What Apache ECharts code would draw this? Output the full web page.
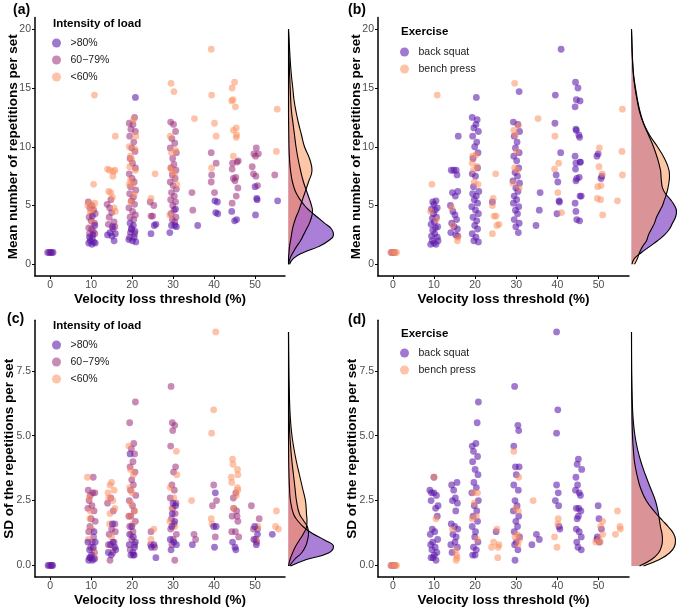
<!DOCTYPE html>
<html>
<head>
    <meta charset="utf-8">
    <title>Velocity loss thresholds</title>
    <script src="https://cdn.jsdelivr.net/npm/echarts@6/dist/echarts.min.js"></script>
    <style>
        html, body { margin: 0; padding: 0; background: #fff; }
        #main { width: 677px; height: 608px; }
    </style>
</head>
<body>
<div id="main"></div>
<script type="text/javascript">
    // tick values
    var xTicks = [0, 10, 20, 30, 40, 50];
    var repsTicks = [0, 5, 10, 15, 20];
    var sdTicks = [0, 2.5, 5, 7.5];

    var intensityNames = ['>80%', '60\u221279%', '<60%'];
    var exerciseNames = ['back squat', 'bench press'];

    // (a) mean reps per set, by intensity  [velocity loss (jittered), reps]
    var repsHigh = [[-0.6,1],[0.1,1],[0.7,1],
        [9.4,1.8],[9.8,2.0],[10.2,1.7],[10.6,1.9],[11.0,1.8],[9.6,2.3],[10.4,2.5],[10.9,3.3],[10.3,4.1],
        [14.0,2.5],[14.6,2.7],[15.1,2.4],[15.6,2.0],[15.9,2.6],[15.2,3.2],
        [19.2,2.1],[19.6,2.7],[20.1,2.0],[20.5,2.3],[20.9,1.9],[19.5,3.5],[20.3,3.3],[20.7,2.8],[19.8,3.0],[20.8,14.2],
        [24.6,2.6],[25.4,3.3],[25.8,3.4],
        [29.2,2.7],[29.6,3.3],[30.4,3.3],[30.8,3.2],[30.6,4.7],
        [36.0,3.3],
        [40.2,5.4],[40.8,5.3],[40.4,4.4],[40.9,4.3],
        [44.3,4.5],[45.0,3.7],[45.5,3.8],
        [50.0,6.6],[50.4,5.6],[50.5,5.5],[50.1,4.2],[55.5,5.4]];
    var repsMid = [[-0.2,1],[0.4,1],
        [9.3,5.3],[9.7,4.8],[10.2,5.0],[10.6,4.6],[11.0,4.3],[9.5,4.0],[10.0,3.7],[10.8,3.5],[9.4,3.1],[10.1,3.0],[10.5,2.8],[9.6,2.6],[10.9,2.6],[10.3,2.2],
        [13.9,5.1],[14.4,4.0],[15.0,4.4],[15.6,3.6],[14.2,3.4],[15.3,3.0],[15.8,3.2],[14.8,5.5],[14.5,4.8],
        [19.3,12.0],[20.6,12.5],[20.2,11.9],[19.7,11.5],[20.8,11.3],[19.4,10.9],[20.4,10.4],[19.9,9.9],[20.7,9.6],[19.5,9.0],[20.1,8.6],[20.8,8.2],[19.3,7.7],[20.0,7.3],[20.5,7.0],[19.6,6.6],[20.9,6.3],[19.4,6.0],[20.3,5.7],[19.8,5.4],[20.6,5.1],[19.2,4.8],[20.1,4.5],[20.8,4.2],[19.5,4.0],[20.4,3.8],[19.9,3.0],[20.6,2.6],[19.4,2.3],
        [24.4,5.3],[24.6,4.1],[25.0,4.1],[25.3,5.0],
        [29.4,12.1],[30.1,11.9],[30.6,11.3],[29.7,10.7],[30.4,10.3],[29.3,9.9],[30.8,9.5],[29.9,9.0],[30.2,8.5],[29.5,8.2],[30.7,8.0],[29.8,7.6],[30.5,7.3],[29.3,7.0],[30.0,6.7],[30.8,6.4],[29.6,6.1],[30.3,5.8],[29.4,5.5],[30.6,5.3],[29.9,5.0],[30.2,4.6],[29.5,4.3],[30.7,4.0],[29.8,3.8],[30.4,3.6],
        [34.6,6.1],[34.8,4.6],
        [39.3,9.5],[39.4,7.6],[39.3,7.0],[40.1,6.1],[40.5,8.6],
        [44.5,8.6],[44.4,8.1],[44.7,7.3],[45.3,7.4],[45.1,7.1],[44.4,5.2],[45.4,5.8],[45.8,6.5],[45.6,8.7],[45.9,8.8],
        [49.3,8.3],[49.6,7.7],[50.2,7.5],[50.6,6.7],[49.7,9.4],[50.1,9.2],[50.3,9.9],[50.8,9.4],[54.8,7.6]];
    var repsLow = [[10.8,14.4],[10.6,6.8],[9.2,5.0],[9.6,5.2],[10.0,4.3],[10.5,4.8],[9.8,4.5],[10.9,5.2],[10.3,3.6],
        [14.0,8.1],[14.5,8.0],[15.4,7.9],[15.8,8.0],[15.3,7.5],[15.9,10.9],[14.3,6.2],[14.8,6.1],[15.2,5.7],[15.6,4.8],[15.9,4.5],
        [19.3,10.0],[19.6,9.2],[20.3,12.3],[20.7,9.8],[19.9,8.9],[19.4,8.3],[20.8,8.0],[19.6,7.2],[20.2,6.8],[19.3,6.8],[20.5,5.9],[19.7,5.3],[20.9,10.9],
        [25.6,7.7],[24.6,5.6],
        [29.5,15.4],[30.2,14.7],[29.3,10.9],[29.6,9.5],[30.6,9.7],[29.4,8.2],[29.8,7.9],[30.3,7.6],[29.2,4.2],[30.9,6.8],
        [35.2,12.4],
        [39.3,18.3],[39.4,14.4],[40.1,12.0],[40.5,10.9],[39.4,8.2],
        [44.4,15.0],[45.0,15.5],[44.6,14.0],[44.3,13.9],[45.2,13.4],[44.7,11.4],[45.4,11.6],[45.5,11.0],[45.4,10.8],[44.7,9.2],
        [55.4,13.2],[55.2,9.6]];

    // (b) mean reps per set, by exercise
    var repsSquat = [[-0.3,1],[0.3,1],
        [9.2,1.7],[9.6,2.0],[10.0,1.8],[10.5,1.7],[11.0,2.0],[9.4,2.4],[10.2,2.6],[10.8,2.3],[9.7,2.9],[10.4,3.1],[9.3,3.4],[10.9,3.2],[10.1,3.6],[9.6,3.9],[10.6,4.0],[9.9,4.3],[10.3,4.6],[9.4,4.7],[10.8,4.8],[10.0,5.1],[9.7,5.3],[10.5,5.4],
        [14.2,8.0],[14.8,8.0],[15.4,8.0],[15.6,7.6],[15.9,10.9],[14.5,6.1],[15.8,6.2],[15.2,5.8],[14.0,5.0],[14.6,4.5],[15.1,4.2],[15.5,3.8],[14.3,3.5],[14.9,3.2],[15.7,3.0],[14.1,2.7],[15.3,2.5],[15.8,2.4],
        [19.3,12.5],[20.5,12.3],[20.2,11.9],[19.7,11.6],[20.8,11.3],[19.4,10.9],[20.4,10.4],[19.9,10.0],[20.7,9.5],[19.5,9.0],[20.6,8.2],[19.3,7.7],[20.1,7.5],[19.6,6.6],[20.9,6.2],[19.4,6.0],[20.3,5.8],[19.8,5.5],[20.6,5.2],[19.2,4.9],[20.1,4.6],[20.8,4.3],[19.5,4.0],[20.4,3.7],[19.9,3.3],[20.6,3.0],[19.3,2.6],[20.2,2.3],[19.7,2.0],[20.8,1.9],[20.3,14.2],
        [24.2,5.3],
        [29.3,12.1],[30.4,11.9],[30.8,11.3],[29.5,10.9],[30.2,10.4],[29.8,9.9],[30.7,9.5],[29.4,9.2],[30.1,8.8],[30.6,8.2],[29.7,7.8],[30.3,7.5],[29.2,7.1],[30.8,6.9],[29.9,6.5],[30.4,6.2],[29.5,5.8],[30.1,5.5],[29.3,5.2],[30.6,4.9],[29.8,4.6],[30.3,4.3],[29.5,3.8],[30.7,3.5],[29.9,3.2],[30.5,2.7],[30.7,14.7],
        [35.8,6.1],[35.6,4.6],[34.8,3.3],
        [40.9,18.3],[39.5,14.4],[39.4,12.0],[39.7,7.6],[40.1,7.0],[40.8,9.5],[40.4,5.4],[40.5,5.3],[39.9,4.3],
        [44.4,15.5],[45.0,15.0],[44.6,14.0],[45.5,13.9],[44.3,13.4],[44.5,11.5],[44.6,11.4],[45.2,11.0],[45.4,10.8],[44.3,9.2],[44.5,8.6],[44.4,8.1],[45.5,8.7],[45.6,8.7],[44.7,7.3],[44.5,7.1],[45.3,7.4],[45.5,5.8],[45.8,5.8],[44.3,5.2],[44.5,4.5],[44.7,3.8],[45.4,3.7],
        [49.9,9.4],[49.6,9.2],[50.8,7.5],[50.6,7.3]];
    var repsBench = [[-0.5,1],[0.1,1],[0.6,1],[0.9,1],
        [10.8,14.4],[9.5,6.8],[9.2,4.5],[10.6,3.8],
        [14.3,4.8],[15.7,2.0],[15.8,2.3],[14.6,3.3],
        [19.3,8.6],[19.6,8.0],[20.2,9.3],[20.5,8.3],[19.8,7.0],[20.7,6.8],[19.4,9.2],
        [24.4,5.6],[24.6,4.1],[25.1,4.1],[25.3,3.3],[25.8,3.4],[24.2,2.6],[25.0,7.7],[24.2,5.0],
        [29.6,15.4],[29.4,11.4],[29.8,11.0],[30.5,11.8],[29.6,8.2],[30.3,8.0],[29.2,6.9],[30.7,6.5],[30.1,9.6],
        [35.3,12.4],
        [39.4,10.9],[40.3,8.6],[39.3,8.1],[40.1,6.1],[41.0,4.4],
        [50.2,9.9],[50.1,8.3],[50.9,7.7],[50.6,6.7],[49.8,6.6],[49.7,5.6],[50.5,5.5],[51.0,4.2],[54.6,5.4],[55.8,13.2],[55.7,9.6],[55.8,7.6]];

    // (c) SD of reps per set, by intensity
    var sdHigh = [[-0.5,0],[0.2,0],[0.6,0],
        [9.4,0.2],[9.8,0.3],[10.3,0.2],[10.8,0.25],[11.0,0.9],[9.6,0.6],[10.5,0.7],[9.2,0.9],[10.7,1.3],[10.1,0.4],
        [14.2,0.5],[14.7,0.8],[15.3,0.9],[15.8,0.7],[16.0,0.6],[15.2,1.6],[14.9,0.4],
        [19.3,0.8],[19.7,0.4],[20.2,0.5],[20.6,0.7],[19.5,4.3],[20.3,1.1],[19.9,1.5],[20.8,0.9],[19.4,1.2],[20.5,0.4],
        [25.3,0.8],[25.8,0.3],[24.7,0.7],
        [29.5,0.6],[30.2,0.9],[30.6,2.3],[30.0,2.4],[29.7,1.5],[30.4,1.7],[29.3,1.0],[30.8,0.8],[29.8,2.0],
        [34.7,0.8],
        [40.3,2.8],[39.9,1.5],[40.5,1.5],[40.1,0.7],
        [44.5,0.9],[45.1,0.7],[45.3,0.6],
        [49.9,1.5],[50.3,0.8],[49.7,1.0],[50.6,1.2],[54.2,1.2]];
    var sdMid = [[-0.2,0],[0.4,0],
        [9.3,2.9],[9.8,2.7],[10.4,2.8],[10.9,2.8],[9.5,2.5],[10.2,2.3],[10.7,2.1],[9.2,2.2],[10.0,1.8],[9.7,1.5],[10.6,1.1],[9.4,1.3],[10.3,0.9],[9.9,0.7],[10.8,0.5],[9.6,0.3],[10.5,3.4],[11.0,1.7],
        [14.0,2.4],[14.8,2.6],[15.4,2.1],[15.8,1.6],[14.4,1.2],[15.0,1.4],[15.6,0.9],[14.2,0.8],[15.3,0.5],[14.6,0.2],[15.9,1.3],
        [19.4,5.5],[20.8,6.3],[20.4,4.7],[19.8,4.5],[20.6,4.3],[20.2,4.0],[19.5,3.8],[20.7,3.6],[19.9,3.3],[20.3,3.1],[19.6,2.9],[20.9,2.7],[19.3,2.5],[20.1,2.3],[20.5,2.1],[19.7,1.9],[20.8,1.7],[19.4,1.5],[20.2,1.3],[19.9,1.0],[20.6,0.8],[19.5,0.6],[20.3,0.4],[19.2,1.9],
        [24.6,1.3],[24.5,0.8],[25.5,0.7],
        [29.5,6.9],[29.8,5.5],[30.4,5.4],[29.9,5.2],[29.4,4.6],[30.6,3.8],[30.1,3.6],[29.7,3.1],[30.3,2.9],[29.3,2.6],[30.7,2.4],[29.9,2.2],[30.5,2.0],[29.6,1.8],[30.2,1.6],[29.4,1.4],[30.8,1.2],[30.0,1.0],[29.7,0.8],[30.4,0.2],
        [35.1,1.2],[35.5,1.0],
        [39.9,3.1],[40.6,2.5],[39.6,2.3],[40.3,1.1],
        [44.4,1.9],[44.7,2.6],[45.3,2.8],[44.8,2.2],[45.5,2.1],[45.8,1.7],[45.2,1.3],[46.0,1.1],[44.3,1.3],[45.6,1.9],
        [49.1,2.3],[50.2,1.0],[50.6,1.4],[51.0,1.8],[49.6,1.4],[50.4,0.9]];
    var sdLow = [[9.1,3.4],[9.5,2.6],[9.7,1.8],[10.1,1.4],[9.3,1.0],[10.6,0.6],[9.8,2.1],[10.9,0.3],
        [14.1,2.8],[14.6,3.1],[15.0,3.2],[15.6,2.9],[14.3,2.6],[15.3,2.5],[14.6,2.0],[15.8,2.2],[14.5,1.6],[15.0,1.1],[15.4,0.7],
        [19.2,4.6],[19.6,3.7],[20.3,3.5],[19.4,3.0],[20.0,2.8],[19.7,2.4],[20.6,2.1],[19.3,1.9],[20.2,1.6],[19.8,1.2],
        [25.3,1.4],[24.6,1.0],
        [29.3,3.0],[29.7,2.2],[30.8,4.4],[30.9,3.5],[30.2,2.6],[29.2,1.7],[30.4,1.5],
        [34.5,2.5],
        [40.4,9.0],[39.9,6.0],[39.4,5.1],[39.3,1.8],[39.5,1.6],
        [44.5,4.1],[44.6,3.9],[45.7,3.7],[45.8,3.5],[44.2,3.4],[44.3,3.2],[45.7,3.0],[45.8,2.9],[44.7,2.2],[45.4,2.7],
        [50.2,1.0],[55.2,2.1],[55.7,1.4],[55.0,1.5],[50.7,1.5]];

    // (d) SD of reps per set, by exercise
    var sdSquat = [[-0.3,0],[0.4,0],
        [9.0,2.9],[9.4,2.8],[10.0,2.8],[10.6,2.7],[11.0,2.3],[9.3,2.5],[10.4,2.2],[10.8,1.9],[9.6,1.4],[10.2,1.3],[9.1,1.2],[10.9,1.0],[9.7,0.9],[10.3,0.7],[9.2,0.8],[10.7,0.5],[9.5,0.6],[10.1,0.4],[9.8,0.3],[10.5,0.2],[9.3,0.3],[10.0,3.4],
        [14.3,3.1],[15.6,3.2],[14.8,2.9],[15.2,2.6],[14.5,2.5],[15.7,2.4],[15.3,2.1],[14.2,1.6],[15.0,1.5],[15.8,1.4],[14.6,1.2],[15.4,1.1],[14.1,0.8],[15.1,0.9],[15.7,0.7],[14.4,0.5],
        [20.8,6.3],[20.5,5.5],[19.3,4.6],[20.2,4.7],[19.6,4.4],[20.6,4.2],[19.4,4.0],[20.0,3.7],[20.7,3.5],[19.7,3.2],[20.3,3.0],[19.2,2.8],[20.8,2.5],[19.8,2.3],[20.4,2.1],[19.5,1.9],[20.6,1.7],[19.3,1.5],[20.1,1.3],[19.9,1.1],[20.7,0.9],[19.6,0.7],[20.3,0.6],[19.4,0.4],[20.0,0.4],
        [25.1,1.3],
        [29.6,6.9],[30.4,5.4],[30.6,5.2],[29.4,4.6],[29.8,3.8],[30.7,3.8],[30.0,3.5],[29.4,3.1],[30.5,2.9],[29.7,2.5],[30.2,2.3],[29.3,2.1],[30.6,1.9],[29.9,1.7],[30.3,1.5],[29.5,1.3],[30.8,1.1],[30.0,0.9],[29.6,0.8],[30.4,0.6],[29.7,0.2],
        [34.9,1.2],[35.6,1.0],[33.8,0.8],
        [39.8,9.0],[40.1,6.0],[39.8,5.1],[39.8,3.1],[40.2,2.8],[39.5,2.5],[40.3,2.3],[40.4,1.5],[40.6,1.4],
        [45.1,4.1],[44.8,3.9],[45.9,3.7],[44.5,3.4],[44.9,3.1],[44.4,2.9],[45.3,2.8],[45.6,2.7],[44.6,2.2],[45.2,2.2],[45.7,2.1],[45.1,1.9],[44.8,1.8],[44.6,1.4],[45.3,1.3],[45.8,1.1],[44.7,0.9],[45.0,0.7],[45.8,0.6],
        [49.9,2.3],[50.1,1.8],[50.7,1.4],[49.7,1.1],[50.2,0.9],[49.6,1.0]];
    var sdBench = [[-0.5,0],[0.0,0],[0.6,0],[0.9,0],
        [10.0,3.4],[10.5,1.8],
        [15.3,0.6],[15.5,0.4],[15.6,0.3],[15.4,0.2],[14.5,1.4],
        [19.6,2.8],[20.6,2.8],[19.3,1.8],[20.3,1.9],[19.8,2.4],[20.5,1.0],
        [24.0,0.7],[24.5,0.9],[25.6,0.7],[25.3,1.4],[25.8,0.8],[25.5,0.3],
        [29.4,4.4],[30.6,3.4],[29.9,2.2],[30.5,2.1],[29.7,1.1],[30.2,1.2],[30.8,1.0],[30.4,0.8],
        [34.1,2.5],
        [39.3,1.1],[40.1,1.6],[40.2,1.8],[39.9,0.7],
        [49.3,0.9],[50.1,1.0],[50.5,1.5],[51.0,1.2],[51.0,1.7],[54.1,1.2],[54.6,2.1],[55.2,1.5],[55.3,1.4],[50.4,0.9]];

    // marginal densities (relative height), read at these levels
    var repsLevels = [0,0.5,1,1.5,2,2.5,3,3.5,4,4.5,5,6,7,8,9,10,11,12,13,14,15,16,17,18,19,20];
    var densRepsHigh = [1,5,15,30,40,45,43,36,29,22,16,8,4,2,1,0.5,0.3,0.1,0,0,0,0,0,0,0,0];
    var densRepsMid = [0,1.5,4.5,8,12,15,18,21,23,24,23,19,15,12,9.5,7.5,6,4.5,3,2.2,1.7,1.2,0.8,0.5,0.3,0];
    var densRepsLow = [0,0,0.5,1,2,3,4,5.5,7.5,10,12,16,20,23.5,21,16,13,10,7.5,5.5,4.3,3,2,1.3,0.6,0];

    var repsLevelsEx = [0,0.5,1,1.5,2,2.5,3,3.5,4,4.5,5,5.5,6,6.5,7,7.5,8,9,10,11,12,13,14,15,16,17,18,19,20];
    var densRepsSquat = [0.5,3,10,18,26,33,38,41,44,45,43,39,34,31,30,29.5,29,26,22,17,12,8.5,6,4,2.3,1.3,0.8,0.4,0];
    var densRepsBench = [3,6,8,11,15,17,20,23,25,28,31,33,35,36.5,37.5,38,37.5,33,26,18,12,8,5.5,3.5,2,1.2,0.6,0.3,0];

    var sdLevels = [0,0.25,0.5,0.75,1,1.25,1.5,1.75,2,2.5,3,3.5,4,4.5,5,5.5,6,7,8,9];
    var densSdHigh = [2,18,40,45,36,24,15,9,5,2,1,0.5,0.2,0.1,0,0,0,0,0,0];
    var densSdMid = [1,6,13,17,19,20,19,15,11,8,6.5,5,3.5,2.3,1.4,0.8,0.5,0.2,0.05,0];
    var densSdLow = [0,1.5,4,7,11,15,18,18.5,18,17,14,11,8,5.5,3.5,2.2,1.4,0.6,0.25,0];

    var densSdSquat = [8,20,27,30,31,30.5,29,28,27,24,19,14,9.5,6,3.5,2,1.1,0.35,0.05,0];
    var densSdBench = [12,28,38,43,44,42,37,31,25,15,9,5.5,3,1.8,1,0.6,0.4,0.15,0.05,0];

    // colours
    var colHigh = 'rgba(90,20,170,0.72)';
    var colMid = 'rgba(152,40,120,0.68)';
    var colLow = 'rgba(251,140,90,0.65)';
    var fillHigh = 'rgba(112,42,190,0.6)';
    var fillMid = 'rgba(192,97,170,0.6)';
    var fillLow = 'rgba(252,160,107,0.6)';

    var FONT = "'Liberation Sans', Arial, sans-serif";

    var panels = [
        { grid: { left: 35, top: 17.5, width: 250, height: 258.5 }, dens: { left: 288.5, width: 50 }, xMin: -3.7, xMax: 57.3, yMin: -1, yMax: 21, yTicks: repsTicks, yName: 'Mean number of repetitions per set', nameGap: 15, dec: 0 },
        { grid: { left: 378, top: 17.5, width: 251, height: 258.5 }, dens: { left: 631.5, width: 45.5 }, xMin: -3.6, xMax: 57.4, yMin: -1, yMax: 21, yTicks: repsTicks, yName: 'Mean number of repetitions per set', nameGap: 15, dec: 0 },
        { grid: { left: 35, top: 320.3, width: 250, height: 257.4 }, dens: { left: 288.5, width: 50 }, xMin: -3.7, xMax: 57.3, yMin: -0.45, yMax: 9.45, yTicks: sdTicks, yName: 'SD of the repetitions per set', nameGap: 19, dec: 1 },
        { grid: { left: 378, top: 320.3, width: 251, height: 257.4 }, dens: { left: 631.5, width: 45.5 }, xMin: -3.6, xMax: 57.4, yMin: -0.45, yMax: 9.45, yTicks: sdTicks, yName: 'SD of the repetitions per set', nameGap: 19, dec: 1 }
    ];

    var grids = [], xAxes = [], yAxes = [], series = [];
    panels.forEach(function (p, i) {
        grids.push(p.grid);
        xAxes.push({
            type: 'value', gridIndex: i, min: p.xMin, max: p.xMax,
            name: 'Velocity loss threshold (%)', nameLocation: 'middle', nameGap: 15,
            nameTextStyle: { fontWeight: 'bold', fontSize: 13.5, color: '#000', fontFamily: FONT },
            axisLine: { show: true, onZero: false, lineStyle: { color: '#000', width: 1.5 } },
            axisTick: { show: true, customValues: xTicks, length: 3, lineStyle: { color: '#000', width: 1 } },
            axisLabel: { customValues: xTicks, fontSize: 10.5, color: '#4d4d4d', margin: 4, fontFamily: FONT },
            splitLine: { show: false }
        });
        yAxes.push({
            type: 'value', gridIndex: i, min: p.yMin, max: p.yMax,
            name: p.yName, nameLocation: 'middle', nameGap: p.nameGap, nameMoveOverlap: false,
            nameTextStyle: { fontWeight: 'bold', fontSize: 13.5, color: '#000', fontFamily: FONT },
            axisLine: { show: true, onZero: false, lineStyle: { color: '#000', width: 1.5 } },
            axisTick: { show: true, customValues: p.yTicks, length: 3, lineStyle: { color: '#000', width: 1 } },
            axisLabel: {
                customValues: p.yTicks, fontSize: 10.5, color: '#4d4d4d', margin: 4, fontFamily: FONT,
                formatter: (function (d) { return function (v) { return v.toFixed(d); }; })(p.dec)
            },
            splitLine: { show: false }
        });
    });
    // density grids, sharing the value range of their scatter panels
    panels.forEach(function (p, i) {
        grids.push({ left: p.dens.left, top: p.grid.top, width: p.dens.width, height: p.grid.height });
        xAxes.push({ type: 'value', gridIndex: 4 + i, min: 0, max: p.dens.width, show: false });
        // time scale makes the vertical axis the base axis, so the area fills toward density 0
        yAxes.push({ type: 'time', gridIndex: 4 + i, min: p.yMin, max: p.yMax, show: false });
    });

    function scatter(name, idx, data, color) {
        return {
            name: name, type: 'scatter', xAxisIndex: idx, yAxisIndex: idx, data: data,
            symbolSize: 6.8, itemStyle: { color: color }, emphasis: { disabled: true }, silent: true
        };
    }
    function density(name, idx, levels, dens, fill) {
        return {
            name: name, type: 'line', xAxisIndex: idx, yAxisIndex: idx,
            data: levels.map(function (v, k) { return [dens[k], v]; }),
            smooth: 0.45, symbol: 'none', silent: true,
            lineStyle: { color: '#000', width: 1.1 },
            areaStyle: { color: fill, opacity: 1 }
        };
    }

    series.push(scatter(intensityNames[1], 0, repsMid, colMid));
    series.push(scatter(intensityNames[2], 0, repsLow, colLow));
    series.push(scatter(intensityNames[0], 0, repsHigh, colHigh));
    series.push(scatter(exerciseNames[0], 1, repsSquat, colHigh));
    series.push(scatter(exerciseNames[1], 1, repsBench, colLow));
    series.push(scatter(intensityNames[1], 2, sdMid, colMid));
    series.push(scatter(intensityNames[2], 2, sdLow, colLow));
    series.push(scatter(intensityNames[0], 2, sdHigh, colHigh));
    series.push(scatter(exerciseNames[0], 3, sdSquat, colHigh));
    series.push(scatter(exerciseNames[1], 3, sdBench, colLow));

    series.push(density('d-high-a', 4, repsLevels, densRepsHigh, fillHigh));
    series.push(density('d-mid-a', 4, repsLevels, densRepsMid, fillMid));
    series.push(density('d-low-a', 4, repsLevels, densRepsLow, fillLow));
    series.push(density('d-squat-b', 5, repsLevelsEx, densRepsSquat, fillHigh));
    series.push(density('d-bench-b', 5, repsLevelsEx, densRepsBench, fillLow));
    series.push(density('d-high-c', 6, sdLevels, densSdHigh, fillHigh));
    series.push(density('d-mid-c', 6, sdLevels, densSdMid, fillMid));
    series.push(density('d-low-c', 6, sdLevels, densSdLow, fillLow));
    series.push(density('d-squat-d', 7, sdLevels, densSdSquat, fillHigh));
    series.push(density('d-bench-d', 7, sdLevels, densSdBench, fillLow));

    function legend(left, top, names) {
        return {
            left: left, top: top, orient: 'vertical', padding: 0, itemGap: 4,
            itemWidth: 18, itemHeight: 9, icon: 'circle', symbolKeepAspect: true,
            selectedMode: false, data: names,
            textStyle: { fontSize: 10.5, lineHeight: 13, color: '#1a1a1a', fontFamily: FONT }
        };
    }
    function label(text, left, top, size) {
        return { text: text, left: left, top: top, padding: 0, textStyle: { fontSize: size, fontWeight: 'bold', color: '#000', fontFamily: FONT } };
    }

    var option = {
        animation: false,
        textStyle: { fontFamily: FONT },
        title: [
            label('(a)', 13, 3, 14), label('(b)', 348, 3, 14),
            label('(c)', 7, 312, 14), label('(d)', 348, 313, 14),
            label('Intensity of load', 53, 18, 11.5), label('Exercise', 401, 26, 11.5),
            label('Intensity of load', 53, 320, 11.5), label('Exercise', 401, 328, 11.5)
        ],
        legend: [
            legend(52, 36.5, intensityNames), legend(400, 45.5, exerciseNames),
            legend(52, 338.5, intensityNames), legend(400, 346.5, exerciseNames)
        ],
        grid: grids,
        xAxis: xAxes,
        yAxis: yAxes,
        series: series
    };

    var myChart = echarts.init(document.getElementById('main'));
    myChart.setOption(option);
    window.onresize = myChart.resize;
</script>
</body>
</html>
